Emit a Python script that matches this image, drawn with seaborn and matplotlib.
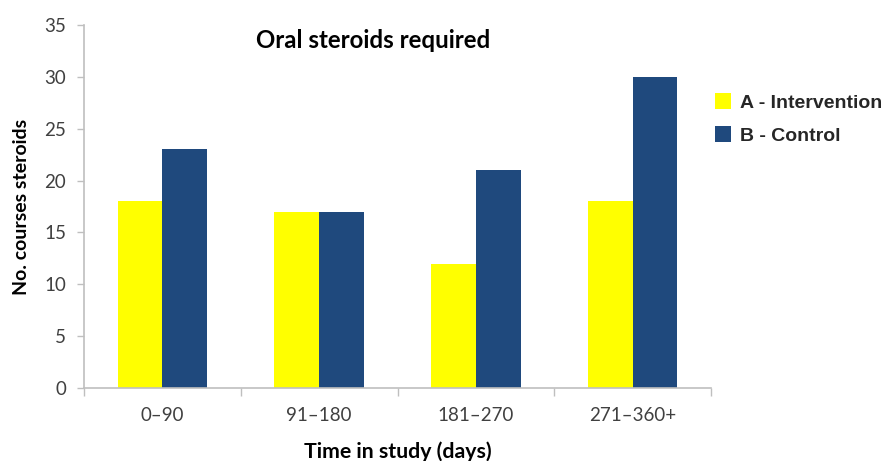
import matplotlib
matplotlib.use("Agg")
import matplotlib.pyplot as plt
import seaborn as sns
import pandas as pd
import numpy as np
from matplotlib.patches import Patch

categories = ["0\u201390", "91\u2013180", "181\u2013270", "271\u2013360+"]
intervention = [18, 17, 12, 18]
control = [23, 17, 21, 30]
series_names = ["A - Intervention", "B - Control"]
colors = ["#FFFF00", "#1F497D"]

df = pd.DataFrame({
    "cat": categories * 2,
    "val": intervention + control,
    "grp": [series_names[0]] * 4 + [series_names[1]] * 4,
})

sns.set_theme(style="white")
plt.rcParams["font.family"] = ["Lato", "DejaVu Sans"]

fig = plt.figure(figsize=(8.9, 4.61), dpi=100)
ax = fig.add_axes([84/890, 1-388/461, (711-84)/890, (388-25)/461])

sns.barplot(data=df, x="cat", y="val", hue="grp", order=categories,
            hue_order=series_names, palette=colors, width=0.57,
            saturation=1, ax=ax, legend=False, linewidth=0)

ax.set_xlim(-0.5, 3.5)
ax.set_ylim(0, 35)
ax.set_yticks(np.arange(0, 36, 5))
ax.tick_params(axis="y", which="major", direction="out", length=5, width=1,
               color="#BFBFBF", labelsize=13.5, labelcolor="#404040", pad=8, left=True)
ax.tick_params(axis="x", which="major", length=0, labelsize=13.5,
               labelcolor="#404040", pad=14)
ax.set_xticks([-0.5, 0.5, 1.5, 2.5, 3.5], minor=True)
ax.tick_params(axis="x", which="minor", direction="out", length=6, width=1,
               color="#BFBFBF", bottom=True)

for s in ["top", "right"]:
    ax.spines[s].set_visible(False)
for s in ["left", "bottom"]:
    ax.spines[s].set_color("#BFBFBF")
    ax.spines[s].set_linewidth(1.2)

ax.set_xlabel("Time in study (days)", fontsize=15.3, fontweight="bold",
              color="black", labelpad=12)
ax.set_ylabel("No. courses steroids", fontsize=14, fontweight="bold",
              color="black", labelpad=10)

fig.text(373/890, 1-40/461, "Oral steroids required", ha="center", va="center",
         fontsize=17.3, fontweight="bold", color="black")

handles = [Patch(facecolor=c, edgecolor="none") for c in colors]
leg = fig.legend(handles, series_names, loc="center left",
                 bbox_to_anchor=(697/890, 1-119/461), frameon=False,
                 prop={"family": "Liberation Sans", "weight": "bold", "size": 14},
                 handlelength=0.85, handleheight=0.85, handletextpad=0.45,
                 labelspacing=0.75, borderaxespad=0.5, borderpad=0.4)

fig.savefig("out.png", dpi=100)
